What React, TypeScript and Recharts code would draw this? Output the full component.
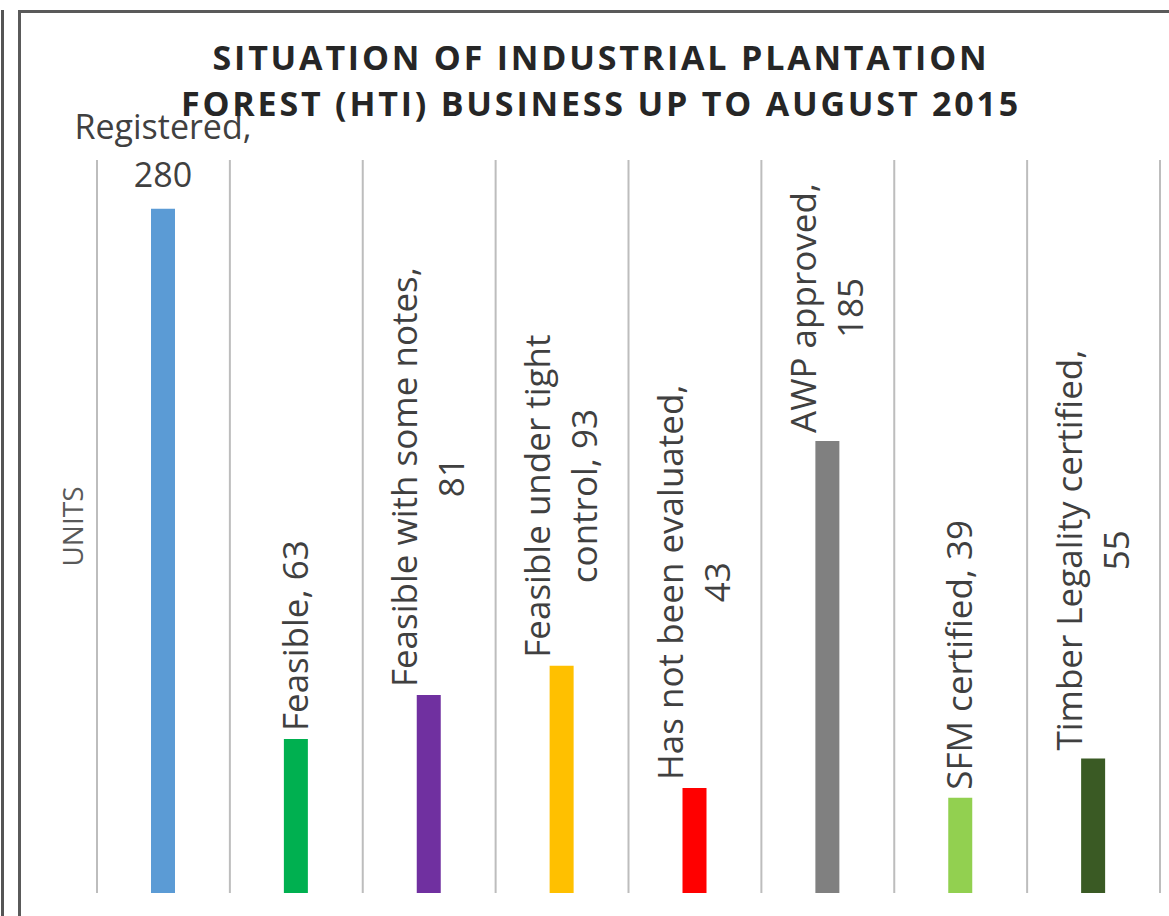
import React from "react";
import {
  Bar,
  BarChart,
  CartesianGrid,
  Cell,
  LabelList,
  XAxis,
  YAxis,
} from "recharts";

const categories = [
  "Registered",
  "Feasible",
  "Feasible with some notes",
  "Feasible under tight control",
  "Has not been evaluated",
  "AWP approved",
  "SFM certified",
  "Timber Legality certified",
];
const units = [280, 63, 81, 93, 43, 185, 39, 55];
const barColors = [
  "#5B9BD5",
  "#00B050",
  "#7030A0",
  "#FFC000",
  "#FF0000",
  "#808080",
  "#92D050",
  "#3A5A24",
];
// words on the first line of each label (0 = one line)
const firstLineWords = [1, 0, 4, 3, 4, 2, 0, 3];
// only the tall first bar keeps its label flat
const flatLabel = [true, false, false, false, false, false, false, false];
const titleLines = [
  "SITUATION OF INDUSTRIAL PLANTATION",
  "FOREST (HTI) BUSINESS UP TO AUGUST 2015",
];

const W = 1169;
const H = 916;
const FONT = '"Open Sans", sans-serif';
const LABEL_SIZE = 35;

const chartData = categories.map((name, i) => ({ name, value: units[i] }));

const labelLines = categories.map((name, i) => {
  const full = `${name}, ${units[i]}`;
  const n = firstLineWords[i];
  if (!n) return [full];
  const words = full.split(" ");
  return [words.slice(0, n).join(" "), words.slice(n).join(" ")];
});

const ctx =
  typeof document !== "undefined"
    ? document.createElement("canvas").getContext("2d")
    : null;
const textWidth = (s: string) => {
  if (!ctx) return s.length * LABEL_SIZE * 0.5;
  ctx.font = `${LABEL_SIZE}px "Open Sans"`;
  return ctx.measureText(s).width;
};

const BarLabel = (props: any) => {
  const { index } = props;
  const x = Number(props.x);
  const y = Number(props.y);
  const width = Number(props.width);
  const lines = labelLines[index] || [];
  const cx = x + width / 2;

  if (flatLabel[index]) {
    return (
      <text
        fill="#404040"
        fontFamily={FONT}
        fontSize={LABEL_SIZE - 1}
        textAnchor="middle"
      >
        {lines.map((l, i) => (
          <tspan key={i} x={cx} y={y - 22 - (lines.length - 1 - i) * 48}>
            {l}
          </tspan>
        ))}
      </text>
    );
  }

  const longest = Math.max(...lines.map(textWidth));
  const mid = y - 8 - longest / 2;
  return (
    <text
      transform={`translate(${cx},${mid}) rotate(-90)`}
      fill="#404040"
      fontFamily={FONT}
      fontSize={LABEL_SIZE}
      textAnchor="middle"
    >
      {lines.map((l, i) => (
        <tspan key={i} x={0} y={12 + (i - (lines.length - 1) / 2) * 47}>
          {l}
        </tspan>
      ))}
    </text>
  );
};

const UnitsLabel = (props: any) => {
  const vb = props.viewBox || {};
  const cx = vb.x + 72;
  const cy = vb.y + vb.height / 2;
  return (
    <text
      transform={`translate(${cx},${cy}) rotate(-90)`}
      textAnchor="middle"
      dominantBaseline="central"
      fill="#595959"
      fontFamily={FONT}
      fontSize={28}
    >
      UNITS
    </text>
  );
};

export default function App() {
  return (
    <div
      style={{
        position: "absolute",
        left: 0,
        top: 0,
        width: W,
        height: H,
        overflow: "hidden",
        background: "#fff",
      }}
    >
      <div
        style={{
          position: "absolute",
          left: 1,
          top: 10,
          width: 3,
          height: H,
          background: "#555",
        }}
      />
      <div
        style={{
          position: "absolute",
          left: 18,
          top: 10,
          width: 1200,
          height: 1000,
          border: "3px solid #5a5a5a",
          boxSizing: "border-box",
        }}
      />
      <div style={{ position: "absolute", left: 0, top: 0 }}>
        <BarChart
          width={W}
          height={H}
          data={chartData}
          margin={{ top: 160, right: 9, bottom: 23, left: 0 }}
        >
          <CartesianGrid
            horizontal={false}
            stroke="#bdbdbd"
            strokeWidth={2}
            verticalCoordinatesGenerator={({ offset }: any) =>
              categories
                .map((_, i) => offset.left + (i * offset.width) / categories.length)
                .concat(offset.left + offset.width)
            }
          />
          <XAxis dataKey="name" hide />
          <YAxis
            width={97}
            domain={[0, 300]}
            tick={false}
            tickLine={false}
            axisLine={false}
            label={{ content: UnitsLabel }}
          />
          <Bar dataKey="value" barSize={24} isAnimationActive={false}>
            {chartData.map((_, i) => (
              <Cell key={i} fill={barColors[i]} />
            ))}
            <LabelList dataKey="value" content={BarLabel} />
          </Bar>
        </BarChart>
      </div>
      <div
        style={{
          position: "absolute",
          left: 101,
          top: 34,
          width: 1000,
          textAlign: "center",
          fontFamily: FONT,
          fontWeight: 700,
          fontSize: 34,
          lineHeight: "46px",
          letterSpacing: 2.8,
          color: "#262626",
          whiteSpace: "nowrap",
        }}
      >
        {titleLines.map((t) => (
          <div key={t}>{t}</div>
        ))}
      </div>
    </div>
  );
}
